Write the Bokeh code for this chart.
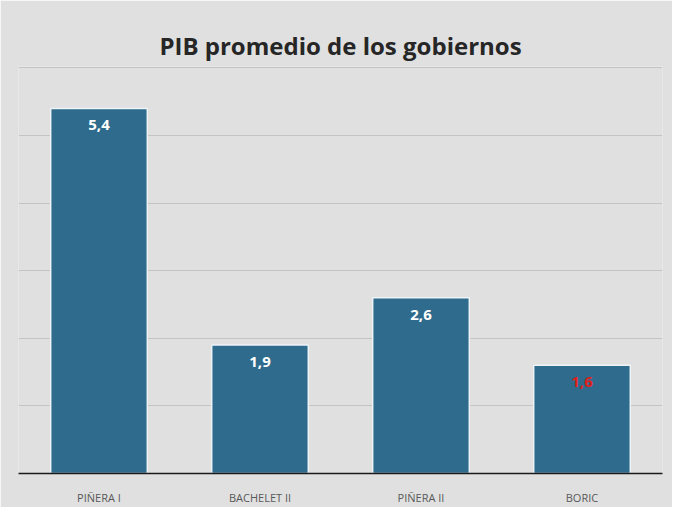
from bokeh.plotting import figure
from bokeh.models import ColumnDataSource, Range1d, FactorRange
from bokeh.embed import file_html
from bokeh.resources import INLINE
from bokeh.core.properties import value

categories = ["PIÑERA I", "BACHELET II", "PIÑERA II", "BORIC"]
values = [5.4, 1.9, 2.6, 1.6]
labels = ["5,4", "1,9", "2,6", "1,6"]
label_colors = ["white", "white", "white", "#e0201b"]

src = ColumnDataSource(dict(x=categories, top=values, lab=labels, col=label_colors))

p = figure(width=672, height=507, x_range=FactorRange(*categories, range_padding=0),
           y_range=Range1d(0, 6.02), output_backend="svg", toolbar_location=None,
           title="PIB promedio de los gobiernos")
p.min_border_left = 18
p.min_border_right = 10
p.min_border_top = 66
p.min_border_bottom = 31
p.title.align = "center"
p.title.text_font = "Open Sans"
p.title.text_font_size = "24px"
p.title.text_font_style = "bold"
p.title.text_color = "#262626"
p.title.offset = 0
p.background_fill_color = "#e0e0e0"
p.border_fill_color = "#e0e0e0"
p.outline_line_color = None

p.vbar(x="x", top="top", width=0.6, source=src, fill_color="#2e6b8c",
       line_color="#eef3f6", line_width=1.5)
p.text(x="x", y="top", text="lab", text_color="col", source=src,
       text_font=value("Open Sans"), text_font_size="15px", text_font_style="bold",
       text_align="center", text_baseline="top", y_offset=12)

p.yaxis.visible = False
p.ygrid.grid_line_color = "#c4c4c4"
p.ygrid.ticker = [1, 2, 3, 4, 5, 6]
p.xgrid.grid_line_color = None
p.xaxis.axis_line_color = "#1a1a1a"
p.xaxis.axis_line_width = 1.5
p.xaxis.major_tick_line_color = None
p.xaxis.minor_tick_line_color = None
p.xaxis.major_label_text_font = "Open Sans"
p.xaxis.major_label_text_font_size = "11px"
p.xaxis.major_label_text_color = "#595959"
p.xaxis.major_label_standoff = 10

open("out.html", "w").write(file_html(p, INLINE))
